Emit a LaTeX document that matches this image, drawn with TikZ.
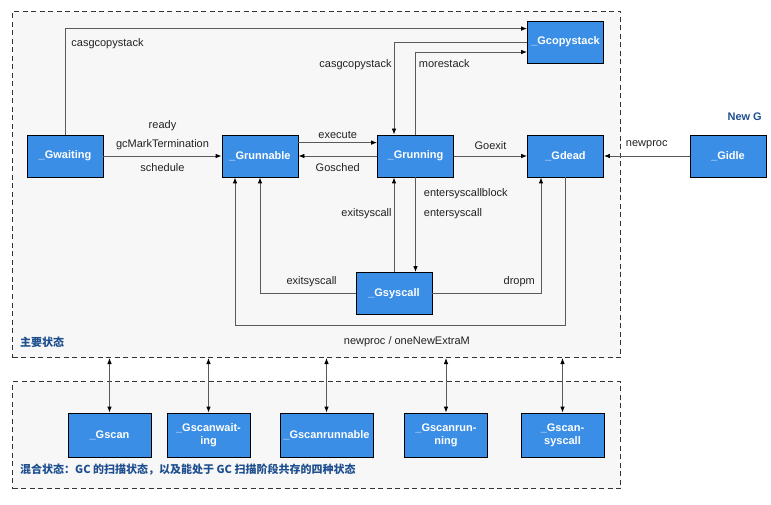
\documentclass[tikz,border=0pt]{standalone}
\usepackage{fontspec}
\setmainfont{Liberation Sans}
\newfontfamily\cjk{Noto Sans CJK SC}
\usepackage{tikz}
\usetikzlibrary{calc,arrows.meta}
\definecolor{gblue}{HTML}{3A8EE6}
\definecolor{titleblue}{HTML}{1F4F8F}
\definecolor{panelgray}{HTML}{F7F7F7}
\definecolor{wire}{HTML}{5A5A5A}
\definecolor{labeltext}{HTML}{222222}
\newcommand{\elevenpt}{\fontsize{11}{13}\selectfont}
\tikzset{
   gstate/.style={draw=black, line width=0.8pt, fill=gblue, text=white, font=\elevenpt\bfseries,
                  minimum width=76pt, minimum height=42pt, inner sep=2pt, align=center},
   gscan/.style={gstate, minimum width=83pt, minimum height=44pt},
   flow/.style={draw=wire, line width=0.8pt, -{Latex[length=6pt,width=4.5pt,black]}},
   both/.style={draw=wire, line width=0.8pt, {Latex[length=6pt,width=4.5pt,black]}-{Latex[length=6pt,width=4.5pt,black]}},
   lbl/.style={text=labeltext, inner sep=2pt, font=\elevenpt},
   title/.style={text=titleblue, font=\elevenpt\cjk\bfseries, inner sep=0pt},
   panel/.style={draw=black!80, dashed, dash pattern=on 5pt off 3.5pt, line width=1pt,
                 fill=panelgray, anchor=north west, inner sep=0pt}
}
\begin{document}
\begin{tikzpicture}[x=1pt,y=-1pt,font=\elevenpt]
\useasboundingbox (0,0) rectangle (771,505);
% panels
\node[panel, minimum width=608pt, minimum height=346pt] (main) at (12,11) {};
\node[panel, minimum width=608pt, minimum height=107pt] (mixed) at (12,381) {};
\node[title, anchor=west] at (20,342) {主要状态};
\node[title, anchor=west] at (20,470) {混合状态：GC 的扫描状态，以及能处于 GC 扫描阶段共存的四种状态};
\node[title, font=\elevenpt\bfseries, anchor=east] at (762,117) {New G};

% main states
\node[gstate] (Gwaiting)   at (65,156)    {\_Gwaiting};
\node[gstate] (Grunnable)  at (260,156)   {\_Grunnable};
\node[gstate] (Grunning)   at (415.5,156) {\_Grunning};
\node[gstate] (Gdead)      at (565.5,156) {\_Gdead};
\node[gstate] (Gidle)      at (728,156)   {\_Gidle};
\node[gstate] (Gcopystack) at (565.5,42)  {\_Gcopystack};
\node[gstate] (Gsyscall)   at (394,293.5) {\_Gsyscall};

% mixed states
\node[gscan] (Gscan)         at (109.5,435) {\_Gscan};
\node[gscan] (Gscanwaiting)  at (208.5,435) {\_Gscanwait-\\ing};
\node[gscan, minimum width=93pt] (Gscanrunnable) at (326.5,435) {\_Gscanrunnable};
\node[gscan] (Gscanrunning)  at (446,435)   {\_Gscanrun-\\ning};
\node[gscan] (Gscansyscall)  at (562.5,435) {\_Gscan-\\syscall};

% copystack
\draw[flow] (Gwaiting.north) |- ($(Gcopystack.north west)+(0,8)$)
   node[lbl, pos=0.43, right=4pt] {casgcopystack};
\draw[flow] (Gcopystack.west) -| ($(Grunning.north)+(-21.5,0)$)
   node[lbl, pos=0.62, left] {casgcopystack};
\draw[flow] (Grunning.north) |- ($(Gcopystack.west)+(0,10)$)
   node[lbl, pos=0.43, right=1pt] {morestack};

% row of states
\draw[flow] (Gwaiting) -- (Grunnable)
   node[lbl, midway, above=23pt] {ready}
   node[lbl, midway, above=4pt] {gcMarkTermination}
   node[lbl, midway, below=5pt] {schedule};
\draw[flow] ($(Grunnable.north east)+(0,8)$) -- ($(Grunning.north west)+(0,8)$)
   node[lbl, midway, above=2pt] {execute};
\draw[flow] (Grunning) -- (Grunnable) node[lbl, midway, below=5pt] {Gosched};
\draw[flow] (Grunning) -- (Gdead) node[lbl, midway, above=4pt] {Goexit};
\draw[flow] (Gidle) -- (Gdead) node[lbl, midway, above=5pt] {newproc};

% syscall
\draw[flow] (Grunning.south) -- (Grunning.south |- Gsyscall.north)
   node[lbl, pos=0.17, right=6pt] {entersyscallblock}
   node[lbl, pos=0.38, right=6pt] {entersyscall};
\draw[flow] (Gsyscall.north) -- (Gsyscall.north |- Grunning.south)
   node[lbl, pos=0.62, left] {exitsyscall};
\draw[flow] (Gsyscall.west) -| (Grunnable.south)
   node[lbl, pos=0.23, above=4pt] {exitsyscall};
\draw[flow] (Gsyscall.east) -| ($(Gdead.south)+(-24.5,0)$)
   node[lbl, pos=0.4, above=4pt] {dropm};
\draw[flow] (Gdead.south) -- ++(0,148) -| ($(Grunnable.south)+(-25,0)$)
   node[lbl, pos=0.24, below=9pt] {newproc / oneNewExtraM};

% scan links
\foreach \s in {Gscan,Gscanwaiting,Gscanrunnable,Gscanrunning,Gscansyscall}
   \draw[both] (\s.north |- main.south) -- (\s.north);
\end{tikzpicture}
\end{document}
